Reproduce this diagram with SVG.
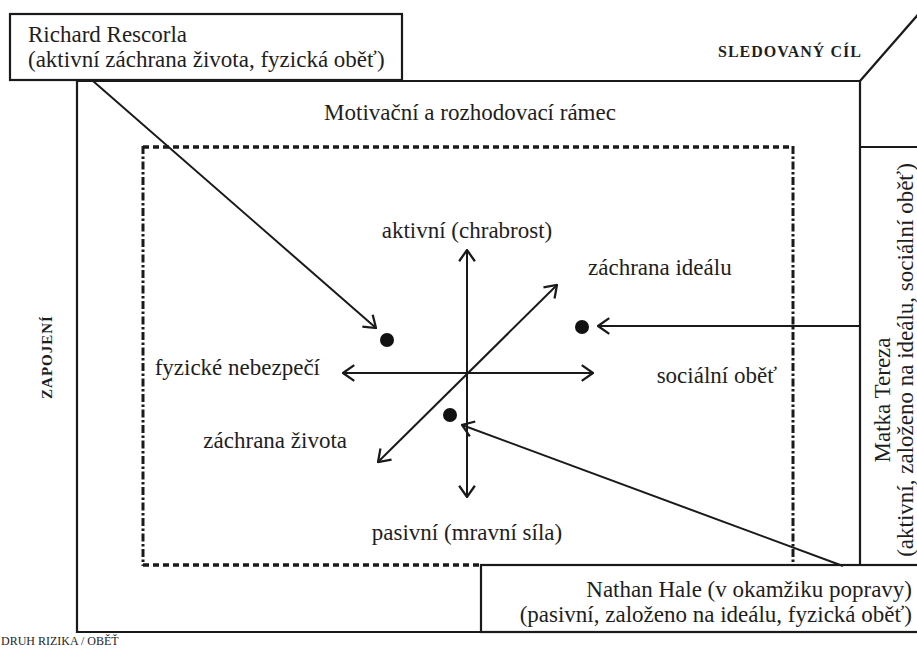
<svg xmlns="http://www.w3.org/2000/svg" width="917" height="648" viewBox="0 0 917 648">
<style>
  .t { font-family: "Liberation Serif", "DejaVu Serif", serif; font-size: 23px; fill: #1e1e1e; }
  .b { font-family: "Liberation Serif", "DejaVu Serif", serif; font-weight: bold; fill: #1e1e1e; letter-spacing: 1px; }
  .frame { fill: none; stroke: #1a1a1a; stroke-width: 2.2; }
  .box { fill: #fff; stroke: #1a1a1a; stroke-width: 2.2; }
  .dashh { fill: none; stroke: #1a1a1a; stroke-width: 3.5; stroke-dasharray: 6 4; }
  .dashv { fill: none; stroke: #1a1a1a; stroke-width: 3; stroke-dasharray: 8 2.5 2.5 2.5; }
  .arr { fill: none; stroke: #1a1a1a; stroke-width: 2; marker-end: url(#ah); }
  .axis { fill: none; stroke: #1a1a1a; stroke-width: 2; marker-start: url(#ah); marker-end: url(#ah); }
  .dot { fill: #111; }
</style>
<defs>
  <marker id="ah" markerUnits="userSpaceOnUse" markerWidth="14" markerHeight="18" viewBox="-1 -1 12 16" refX="10" refY="7" orient="auto-start-reverse">
    <path d="M0,0 L10,7 L0,14" fill="none" stroke="#1a1a1a" stroke-width="2"/>
  </marker>
</defs>
<rect width="917" height="648" fill="#fff"/>

<g id="frame">
  <polyline class="frame" points="860,565 860,81 77,81 77,632 481,632"/>
  <line class="frame" x1="860" y1="81" x2="922" y2="10"/>
  <text class="b" x="718" y="57" font-size="16">SLEDOVANÝ CÍL</text>
  <text class="b" x="0" y="0" font-size="15" text-anchor="middle" transform="translate(52,357) rotate(-90)">ZAPOJENÍ</text>
  <text class="t" x="1" y="645" style="font-size:12px">DRUH RIZIKA / OBĚŤ</text>
</g>

<g id="ramec">
  <line class="dashh" x1="143" y1="147" x2="793" y2="147"/>
  <line class="dashh" x1="143" y1="565" x2="481" y2="565"/>
  <line class="dashv" x1="143" y1="146" x2="143" y2="566"/>
  <line class="dashv" x1="793" y1="146" x2="793" y2="566"/>
  <text class="t" x="470" y="120" text-anchor="middle">Motivační a rozhodovací rámec</text>
</g>

<g id="axes">
  <line class="axis" x1="467" y1="497" x2="467" y2="250"/>
  <line class="axis" x1="343" y1="373" x2="593" y2="373"/>
  <line class="axis" x1="378" y1="462" x2="557" y2="285"/>
  <text class="t" x="467" y="238" text-anchor="middle">aktivní (chrabrost)</text>
  <text class="t" x="588" y="275">záchrana ideálu</text>
  <text class="t" x="320" y="375" text-anchor="end">fyzické nebezpečí</text>
  <text class="t" x="777" y="383" text-anchor="end">sociální oběť</text>
  <text class="t" x="347" y="448" text-anchor="end">záchrana života</text>
  <text class="t" x="467" y="540" text-anchor="middle">pasivní (mravní síla)</text>
</g>

<g id="dots">
  <circle class="dot" cx="387" cy="340" r="7"/>
  <circle class="dot" cx="582" cy="327" r="7"/>
  <circle class="dot" cx="450" cy="415" r="7"/>
</g>

<g id="rescorla">
  <rect class="box" x="10" y="14" width="392" height="66"/>
  <text class="t" x="28" y="42">Richard Rescorla</text>
  <text class="t" x="28" y="67">(aktivní záchrana života, fyzická oběť)</text>
</g>

<g id="tereza">
  <polyline class="frame" points="860,147 920,147"/>
  <text class="t" x="0" y="0" text-anchor="middle" transform="translate(890,400) rotate(-90)">Matka Tereza</text>
  <text class="t" x="0" y="0" text-anchor="middle" transform="translate(913,360) rotate(-90)">(aktivní, založeno na ideálu, sociální oběť)</text>
</g>

<g id="hale">
  <rect class="box" x="481" y="565" width="445" height="67"/>
  <text class="t" x="912" y="597" text-anchor="end">Nathan Hale (v okamžiku popravy)</text>
  <text class="t" x="912" y="622" text-anchor="end">(pasivní, založeno na ideálu, fyzická oběť)</text>
</g>

<g id="connectors">
  <line class="arr" x1="93" y1="81" x2="376" y2="328"/>
  <line class="arr" x1="860" y1="326" x2="598" y2="326"/>
  <line class="arr" x1="843" y1="566" x2="462" y2="425"/>
</g>
</svg>
